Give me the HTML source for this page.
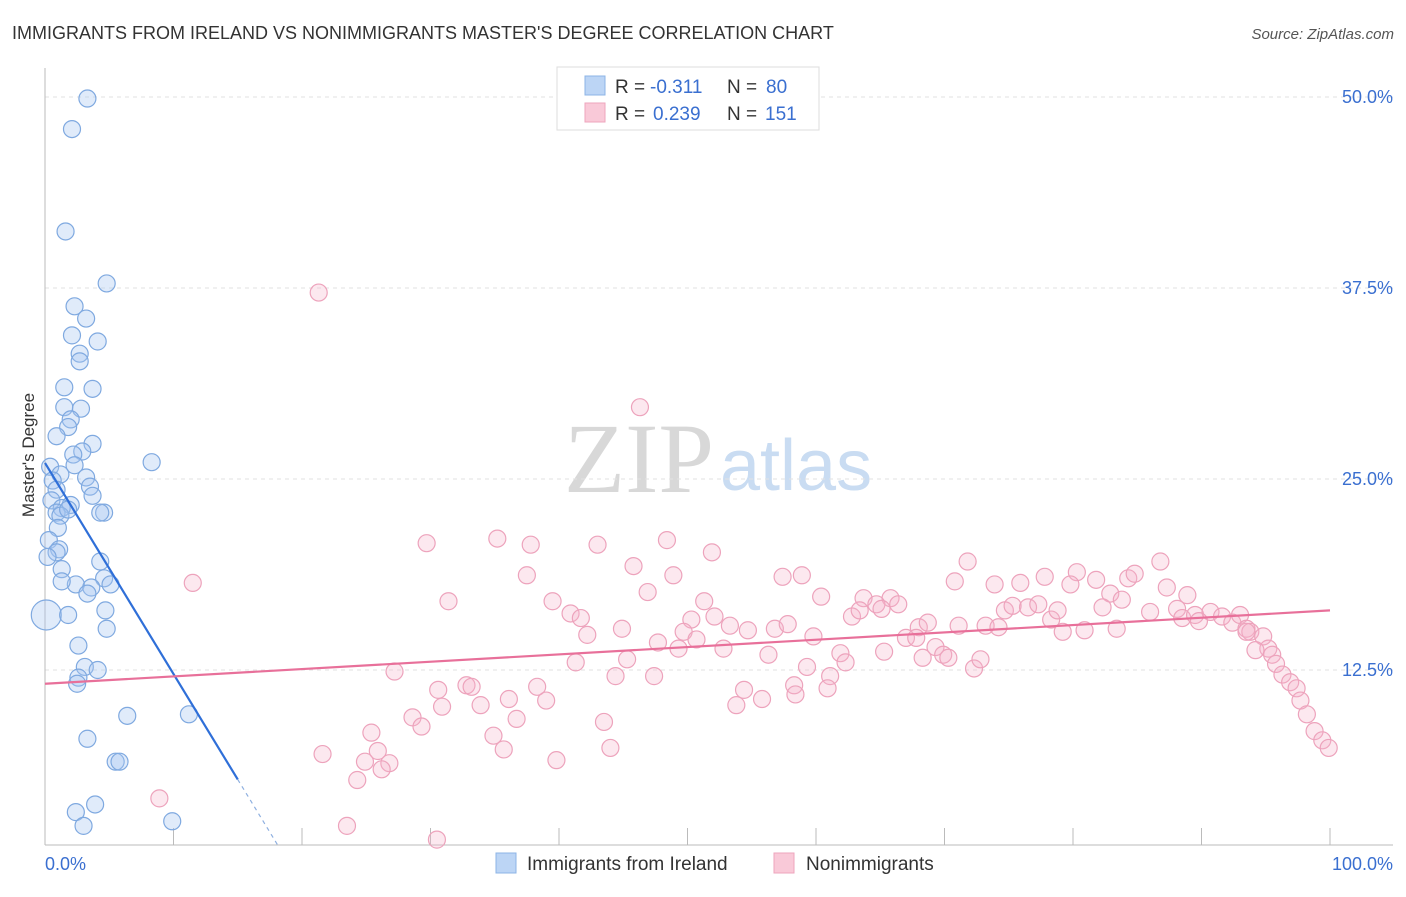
<!DOCTYPE html>
<html><head><meta charset="utf-8">
<style>
body{margin:0;background:#fff;font-family:"Liberation Sans",sans-serif;}
svg text{font-family:"Liberation Sans",sans-serif;}
</style></head>
<body>
<svg id="chart" width="1406" height="892" xmlns="http://www.w3.org/2000/svg">
<text x="12" y="39" font-size="18" fill="#333">IMMIGRANTS FROM IRELAND VS NONIMMIGRANTS MASTER'S DEGREE CORRELATION CHART</text>
<text x="1394" y="39" font-size="15" fill="#555" text-anchor="end" font-style="italic">Source: ZipAtlas.com</text>
<g>
<text x="714" y="492" font-size="100" fill="#d8d8d8" text-anchor="end" style="font-family:'Liberation Serif',serif">ZIP</text>
<text x="720" y="490" font-size="72" fill="#c9dcf2">atlas</text>
</g>
<text transform="translate(34,455) rotate(-90)" font-size="17" fill="#333" text-anchor="middle">Master's Degree</text>
<g id="grid"></g>
<g id="axes"></g>
<g id="pts"></g>
<g id="trend"></g>
<g>
<rect x="557" y="67" width="262" height="63" fill="#fff" stroke="#ddd"/>
<rect x="585" y="76" width="20" height="19" fill="#bcd5f5" stroke="#8db4e6"/>
<text x="615" y="93" font-size="19" fill="#333">R =</text>
<text x="650" y="93" font-size="19" fill="#3a6fd0">-0.311</text>
<text x="727" y="93" font-size="19" fill="#333">N =</text>
<text x="766" y="93" font-size="19" fill="#3a6fd0">80</text>
<rect x="585" y="103" width="20" height="19" fill="#f9c9d8" stroke="#eea5bd"/>
<text x="615" y="120" font-size="19" fill="#333">R =</text>
<text x="653" y="120" font-size="19" fill="#3a6fd0">0.239</text>
<text x="727" y="120" font-size="19" fill="#333">N =</text>
<text x="765" y="120" font-size="19" fill="#3a6fd0">151</text>
</g>
<g>
<rect x="496" y="853" width="20" height="20" fill="#bcd5f5" stroke="#8db4e6"/>
<text x="527" y="870" font-size="19" fill="#333">Immigrants from Ireland</text>
<rect x="774" y="853" width="20" height="20" fill="#f9c9d8" stroke="#eea5bd"/>
<text x="806" y="870" font-size="19" fill="#333">Nonimmigrants</text>
</g>
</svg>
<script>
const blueX=[3.3,2.1,1.6,4.8,2.3,3.2,2.1,4.1,2.7,2.7,1.5,3.7,1.5,2.8,2.0,1.8,0.9,3.7,2.9,2.2,8.3,2.3,0.4,1.2,3.2,0.6,3.5,0.9,3.7,0.5,2.0,1.3,0.9,4.6,4.3,1.2,1.8,1.0,0.3,1.1,0.9,0.2,4.3,1.3,4.6,2.4,1.3,5.1,3.6,3.3,0.1,1.8,4.7,4.8,2.6,3.1,4.1,2.6,2.5,6.4,11.2,3.3,5.5,5.8,3.9,2.4,3.0,9.9];
const blueY=[49.9,47.9,41.2,37.8,36.3,35.5,34.4,34.0,33.2,32.7,31.0,30.9,29.7,29.6,28.9,28.4,27.8,27.3,26.8,26.6,26.1,25.9,25.8,25.3,25.1,24.9,24.5,24.3,23.9,23.6,23.3,23.1,22.8,22.8,22.8,22.6,23.0,21.8,21.0,20.4,20.2,19.9,19.6,19.1,18.5,18.1,18.3,18.1,17.9,17.5,16.1,16.1,16.4,15.2,14.1,12.7,12.5,12.0,11.6,9.5,9.6,8.0,6.5,6.5,3.7,3.2,2.3,2.6];
const pinkX=[21.3,46.3,11.5,29.7,35.2,37.8,43.0,48.4,51.9,37.5,45.8,48.9,57.4,58.9,71.8,86.8,31.4,39.5,46.9,51.3,60.4,63.7,65.8,70.8,73.9,75.9,77.8,80.3,81.8,84.3,84.8,87.3,88.9,79.8,82.9,83.8,40.9,41.7,42.2,44.9,47.7,50.3,49.7,50.7,52.1,53.3,54.7,56.8,57.8,59.8,62.8,63.4,64.7,65.1,66.4,67.0,68.0,68.7,71.1,73.2,74.2,74.7,75.3,76.5,77.3,78.3,78.8,79.2,80.9,82.3,83.4,86.0,88.1,88.5,89.5,90.7,91.6,92.4,93.0,89.8,93.5,93.8,94.8,95.2,94.2,95.5,95.8,96.3,96.9,97.4,97.7,98.2,98.8,99.4,99.9,93.5,41.3,45.3,47.4,44.4,49.3,52.8,56.3,59.3,61.9,62.3,61.1,65.3,67.8,69.3,69.9,70.3,68.3,72.3,72.8,54.4,55.8,53.8,58.3,60.9,58.4,27.2,30.6,32.8,33.2,33.9,36.1,38.3,39.0,28.6,29.3,30.9,36.7,43.5,34.9,35.7,25.4,21.6,25.9,24.9,26.8,26.2,24.3,39.8,44.0,8.9,23.5,30.5];
const pinkY=[37.2,29.7,18.2,20.8,21.1,20.7,20.7,21.0,20.2,18.7,19.3,18.7,18.6,18.7,19.6,19.6,17.0,17.0,17.6,17.0,17.3,17.2,17.2,18.3,18.1,18.2,18.6,18.9,18.4,18.5,18.8,17.9,17.4,18.1,17.5,17.1,16.2,15.9,14.8,15.2,14.3,15.8,15.0,14.5,16.0,15.4,15.1,15.2,15.5,14.7,16.0,16.4,16.8,16.5,16.8,14.6,15.3,15.6,15.4,15.4,15.3,16.4,16.7,16.6,16.8,15.8,16.4,15.0,15.1,16.6,15.2,16.3,16.5,15.9,16.1,16.3,16.0,15.6,16.1,15.7,15.2,15.0,14.7,13.9,13.8,13.5,12.9,12.2,11.7,11.3,10.5,9.6,8.5,7.9,7.4,15.0,13.0,13.2,12.1,12.1,13.9,13.9,13.5,12.7,13.6,13.0,12.1,13.7,14.6,14.0,13.5,13.3,13.3,12.6,13.2,11.2,10.6,10.2,11.5,11.3,10.9,12.4,11.2,11.5,11.4,10.2,10.6,11.4,10.5,9.4,8.8,10.1,9.3,9.1,8.2,7.3,8.4,7.0,7.2,6.5,6.4,6.0,5.3,6.6,7.4,4.1,2.3,1.4];
const yTicks=[12.5,25.0,37.5,50.0];
const xTickLabels=["0.0%","100.0%"];
const blueTrend=[26.05,-1.381,15.0];
const pinkTrend=[11.6,0.048];
const NS="http://www.w3.org/2000/svg";
const sx=v=>45+v*12.85, sy=v=>861-v*15.28;
function mk(t,a,p){const e=document.createElementNS(NS,t);for(const k in a)e.setAttribute(k,a[k]);p.appendChild(e);return e;}
const grid=document.getElementById('grid'),axes=document.getElementById('axes'),pts=document.getElementById('pts'),tr=document.getElementById('trend');
yTicks.forEach(v=>{
 const l=mk('line',{x1:45,x2:1393,y1:sy(v),y2:sy(v),stroke:'#e2e2e2','stroke-dasharray':'4,4'},grid);
 
 
 const t=mk('text',{x:1393,y:sy(v)+6,'font-size':18,fill:'#3a6fd0','text-anchor':'end'},grid);
 
 
 t.textContent=v.toFixed(1)+'%';
});
const ax=mk('line',{x1:45,x2:1393,y1:845,y2:845,stroke:'#bbb'},axes);


const ay=mk('line',{x1:45,x2:45,y1:68,y2:845,stroke:'#bbb'},axes);


for(let i=1;i<=10;i++){const t=mk('line',{x1:sx(i*10),x2:sx(i*10),y1:828,y2:845,stroke:'#bbb'},axes);
 
 }
const xl0=mk('text',{x:45,y:870,'font-size':18,fill:'#3a6fd0'},axes);


xl0.textContent=xTickLabels[0];
const xl1=mk('text',{x:1393,y:870,'font-size':18,fill:'#3a6fd0','text-anchor':'end'},axes);


xl1.textContent=xTickLabels[1];
pinkX.forEach((x,i)=>{const c=mk('circle',{cx:sx(x),cy:sy(pinkY[i]),r:8.5,fill:'rgba(246,178,202,0.3)',stroke:'#eda3bc','stroke-width':1.2},pts);
 
 });
blueX.forEach((x,i)=>{const c=mk('circle',{cx:sx(x),cy:sy(blueY[i]),r:i==50?15:8.5,fill:'rgba(165,198,240,0.35)',stroke:'#7fa9e0','stroke-width':1.2},pts);
 
 });
const bEnd=blueTrend[2];
const b1=mk('line',{x1:sx(0),y1:sy(blueTrend[0]),x2:sx(bEnd),y2:sy(blueTrend[0]+blueTrend[1]*bEnd),stroke:'#2f6fd8','stroke-width':2.2},tr);


const yb=(861-845)/15.28;const xb=(yb-blueTrend[0])/blueTrend[1];
const b2=mk('line',{x1:sx(bEnd),y1:sy(blueTrend[0]+blueTrend[1]*bEnd),x2:sx(xb),y2:845,stroke:'#8fb0e0','stroke-width':1.2,'stroke-dasharray':'4,4'},tr);


const p1=mk('line',{x1:sx(0),y1:sy(pinkTrend[0]),x2:sx(100),y2:sy(pinkTrend[0]+pinkTrend[1]*100),stroke:'#e8709a','stroke-width':2.2},tr);


</script>
</body></html>
